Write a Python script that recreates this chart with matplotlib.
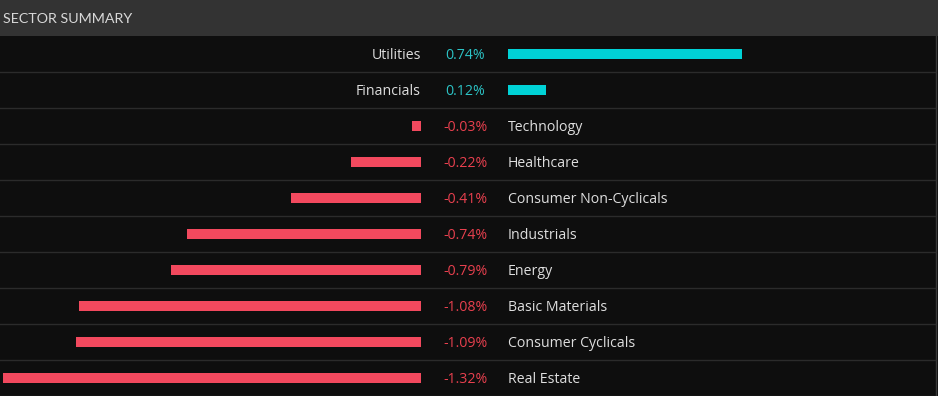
import matplotlib
matplotlib.use("Agg")
import matplotlib.pyplot as plt
from matplotlib.patches import Rectangle

sectors = ["Utilities", "Financials", "Technology", "Healthcare",
           "Consumer Non-Cyclicals", "Industrials", "Energy",
           "Basic Materials", "Consumer Cyclicals", "Real Estate"]
changes = [0.74, 0.12, -0.03, -0.22, -0.41, -0.74, -0.79, -1.08, -1.09, -1.32]
value_labels = ["0.74%", "0.12%", "-0.03%", "-0.22%", "-0.41%", "-0.74%",
                "-0.79%", "-1.08%", "-1.09%", "-1.32%"]
title = "SECTOR SUMMARY"

W, H = 938, 396
fig = plt.figure(figsize=(W / 100, H / 100), dpi=100)
fig.patch.set_facecolor("#0e0e0e")
ax = fig.add_axes([0, 0, 1, 1])
ax.set_xlim(0, W)
ax.set_ylim(H, 0)
ax.axis("off")
ax.set_facecolor("#0e0e0e")

FONT = ["Open Sans", "DejaVu Sans"]
FS = 10.2
HEAD = 36
ROW = 36
PX_PER_PCT = 316.5
POS_LEFT = 508
NEG_RIGHT = 421
VAL_X = 465
TXT_DY = 1.5
CYAN = "#00d2d6"
RED = "#f2495e"
CYAN_TXT = "#2cc4c6"
RED_TXT = "#e8404e"
NAME_C = "#dedede"

# header
ax.add_patch(Rectangle((0, 0), W, HEAD, facecolor="#333333", edgecolor="none", zorder=1))
ax.text(3, HEAD / 2 + 1, title, color="#d8d8d8", fontsize=10.3, va="center", ha="left",
        family=["Lato", "DejaVu Sans"], zorder=3)

# body
ax.add_patch(Rectangle((0, HEAD), 935, H - HEAD, facecolor="#0e0e0e", edgecolor="none", zorder=1))
ax.plot([935.5, 935.5], [HEAD, H], color="#3a3a3a", lw=1, zorder=2)

centers = [HEAD + ROW * i + ROW / 2 for i in range(len(sectors))]
for i in range(1, len(sectors) + 1):
    yl = HEAD + ROW * i - 0.5
    ax.plot([0, 935], [yl, yl], color="#2b2b2b", lw=1, zorder=2)

for name, v, lab, yc in zip(sectors, changes, value_labels, centers):
    w = abs(v) * PX_PER_PCT
    ty = yc + TXT_DY
    if v >= 0:
        ax.barh(yc, w, left=POS_LEFT, height=10, color=CYAN, zorder=3)
        ax.text(NEG_RIGHT, ty, name, color=NAME_C, fontsize=FS, ha="right", va="center",
                family=FONT, zorder=4)
        ax.text(VAL_X, ty, lab, color=CYAN_TXT, fontsize=FS, ha="center", va="center",
                family=FONT, zorder=4)
    else:
        ax.barh(yc, -w, left=NEG_RIGHT, height=10, color=RED, zorder=3)
        ax.text(POS_LEFT, ty, name, color=NAME_C, fontsize=FS, ha="left", va="center",
                family=FONT, zorder=4)
        ax.text(VAL_X, ty, lab, color=RED_TXT, fontsize=FS, ha="center", va="center",
                family=FONT, zorder=4)

fig.savefig("out.png", dpi=100, facecolor=fig.get_facecolor())
